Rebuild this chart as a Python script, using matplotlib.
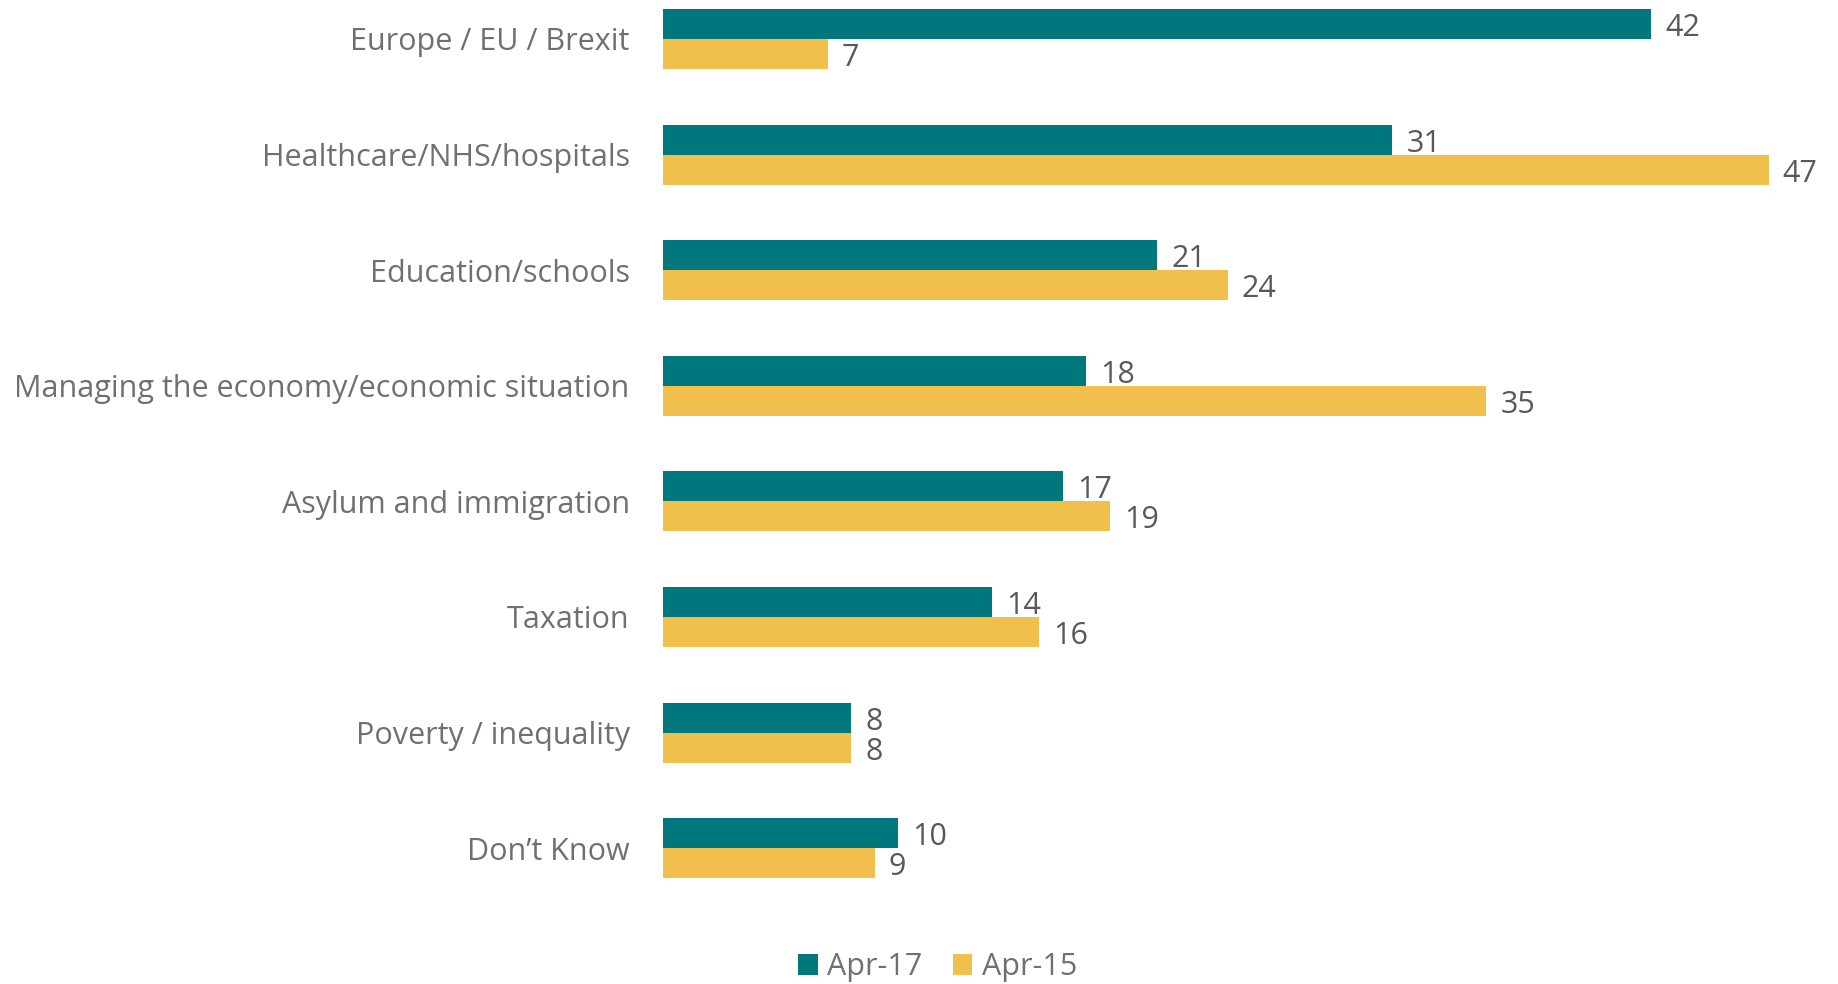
import matplotlib
matplotlib.use("Agg")
import matplotlib.pyplot as plt
import numpy as np

categories = [
    "Europe / EU / Brexit",
    "Healthcare/NHS/hospitals",
    "Education/schools",
    "Managing the economy/economic situation",
    "Asylum and immigration",
    "Taxation",
    "Poverty / inequality",
    "Don\u2019t Know",
]
apr17 = [42, 31, 21, 18, 17, 14, 8, 10]
apr15 = [7, 47, 24, 35, 19, 16, 8, 9]
series_names = ["Apr-17", "Apr-15"]

TEAL = "#00767D"
GOLD = "#F0BF4C"
LABEL_GREY = "#707070"
VALUE_GREY = "#595959"

plt.rcParams["font.family"] = ["Open Sans", "DejaVu Sans"]

fig = plt.figure(figsize=(18.38, 9.84), dpi=100)
ax = fig.add_axes([0.3607, 0.0854, 1 - 0.3607, 0.9146])

y = np.arange(len(categories))
h = 0.26
b1 = ax.barh(y - h / 2, apr17, height=h, color=TEAL, label=series_names[0])
b2 = ax.barh(y + h / 2, apr15, height=h, color=GOLD, label=series_names[1])

for bars, vals in ((b1, apr17), (b2, apr15)):
    for bar, v in zip(bars, vals):
        ax.annotate(str(v), (bar.get_width(), bar.get_y() + bar.get_height() / 2),
                    xytext=(14, -4), textcoords="offset pixels",
                    va="center", ha="left", fontsize=22, color=VALUE_GREY)

ax.set_xlim(0, 49.94)
ax.set_ylim(7.448, -0.337)
ax.set_yticks(y)
ax.set_yticklabels(categories, fontsize=22, color=LABEL_GREY)
ax.tick_params(axis="y", length=0, pad=24)
ax.set_xticks([])
for s in ax.spines.values():
    s.set_visible(False)

fig.legend(handles=[b1, b2], loc="center", bbox_to_anchor=(0.51, 0.017), ncol=2,
           frameon=False, fontsize=22, handlelength=0.65, handleheight=0.65,
           handletextpad=0.3, columnspacing=1.0, labelcolor=LABEL_GREY)

fig.savefig("out.png", dpi=100)
